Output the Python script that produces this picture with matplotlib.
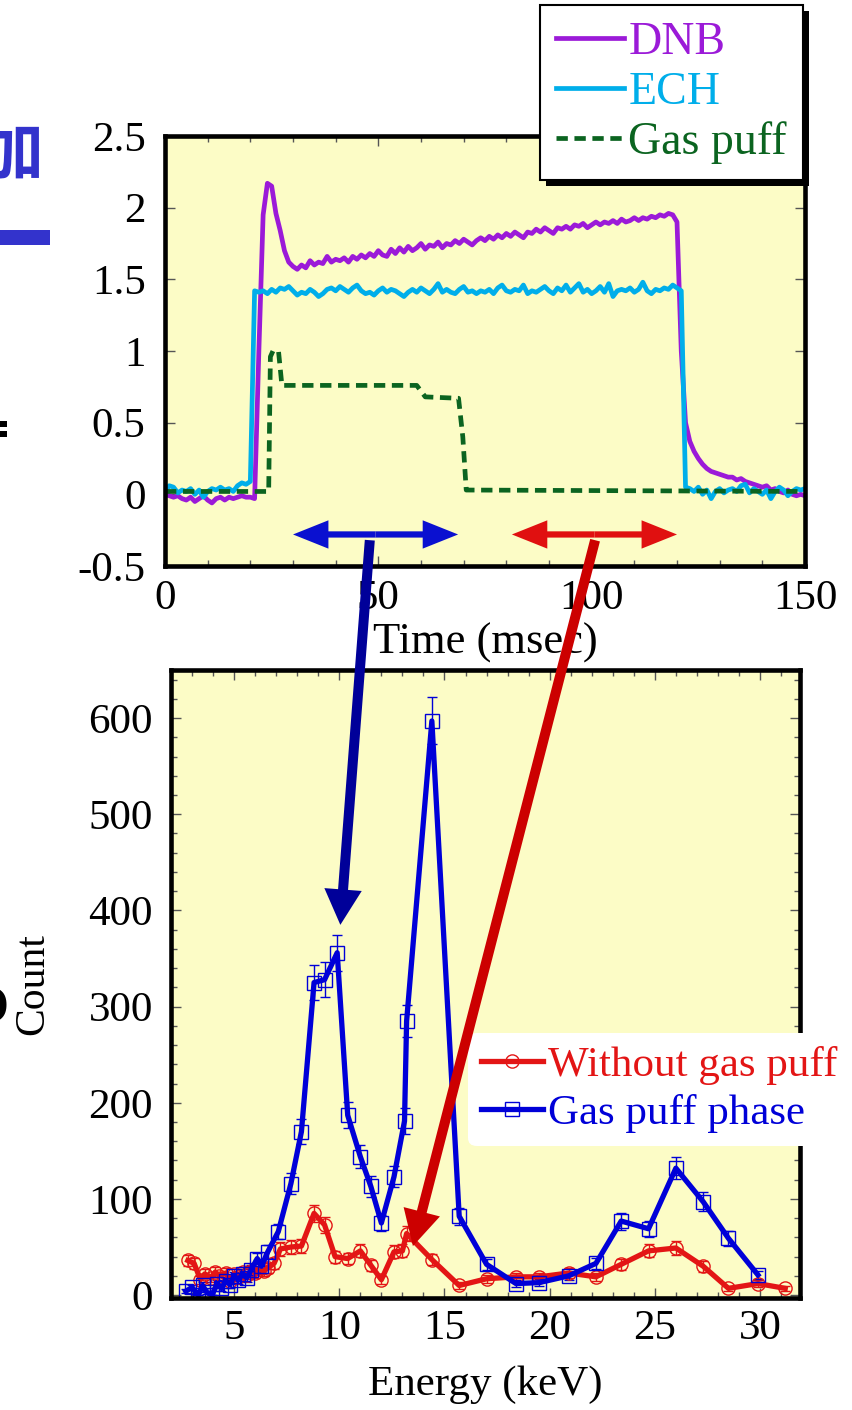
import matplotlib
matplotlib.use("Agg")
import matplotlib.pyplot as plt
import numpy as np
from matplotlib.patches import ConnectionPatch, Rectangle
from matplotlib.lines import Line2D
from matplotlib.ticker import MultipleLocator

plt.rcParams["font.family"] = ["Liberation Serif", "DejaVu Serif"]

# --- time traces, one sample per ms ---
time_ms = np.arange(0, 151)
dnb = [
    0.00, -0.01, -0.02, -0.01, -0.03, -0.04, -0.02, -0.05, -0.03, -0.01,
    -0.04, -0.06, -0.03, -0.02, -0.04, -0.02, -0.03, -0.02, -0.01, -0.02,
    -0.02, -0.03, 1.00, 1.95, 2.17, 2.15, 1.96, 1.84, 1.70, 1.62,
    1.59, 1.57, 1.60, 1.58, 1.63, 1.60, 1.62, 1.61, 1.66, 1.62,
    1.64, 1.63, 1.65, 1.62, 1.66, 1.64, 1.67, 1.65, 1.68, 1.66,
    1.70, 1.67, 1.66, 1.71, 1.68, 1.72, 1.69, 1.73, 1.70, 1.72,
    1.75, 1.71, 1.74, 1.73, 1.76, 1.72, 1.75, 1.74, 1.77, 1.75,
    1.78, 1.76, 1.74, 1.77, 1.79, 1.77, 1.80, 1.78, 1.81, 1.79,
    1.82, 1.80, 1.83, 1.81, 1.79, 1.83, 1.82, 1.85, 1.83, 1.86,
    1.84, 1.82, 1.86, 1.85, 1.87, 1.85, 1.88, 1.87, 1.89, 1.86,
    1.88, 1.90, 1.88, 1.90, 1.89, 1.91, 1.89, 1.92, 1.90, 1.91,
    1.93, 1.91, 1.93, 1.92, 1.94, 1.93, 1.95, 1.94, 1.96, 1.95,
    1.90, 1.00, 0.50, 0.37, 0.30, 0.25, 0.21, 0.18, 0.16, 0.15,
    0.14, 0.13, 0.12, 0.12, 0.10, 0.11, 0.09, 0.08, 0.07, 0.06,
    0.05, 0.06, 0.03, 0.04, 0.02, 0.01, 0.03, 0.00, -0.01, 0.00,
    -0.01,
]
ech = [
    0.02, 0.06, 0.05, 0.01, 0.03, 0.02, 0.04, 0.00, 0.03, -0.02,
    0.02, 0.04, 0.03, 0.05, 0.03, 0.04, 0.02, 0.06, 0.08, 0.07,
    0.09, 1.42, 1.41, 1.42, 1.40, 1.43, 1.41, 1.44, 1.43, 1.45,
    1.42, 1.39, 1.41, 1.40, 1.43, 1.41, 1.38, 1.40, 1.43, 1.44,
    1.42, 1.45, 1.43, 1.41, 1.44, 1.46, 1.42, 1.40, 1.41, 1.39,
    1.42, 1.44, 1.41, 1.43, 1.42, 1.40, 1.38, 1.41, 1.43, 1.41,
    1.44, 1.42, 1.40, 1.43, 1.47, 1.41, 1.43, 1.41, 1.40, 1.43,
    1.45, 1.41, 1.42, 1.40, 1.42, 1.41, 1.43, 1.40, 1.44, 1.46,
    1.42, 1.41, 1.43, 1.42, 1.46, 1.40, 1.42, 1.41, 1.43, 1.45,
    1.42, 1.40, 1.44, 1.42, 1.46, 1.41, 1.44, 1.47, 1.41, 1.43,
    1.40, 1.42, 1.45, 1.41, 1.47, 1.38, 1.42, 1.43, 1.42, 1.44,
    1.41, 1.43, 1.48, 1.42, 1.40, 1.43, 1.42, 1.44, 1.43, 1.46,
    1.44, 1.42, 0.05, 0.04, 0.02, 0.05, 0.00, 0.03, -0.03, 0.02,
    0.04, 0.01, 0.03, 0.04, 0.02, 0.06, 0.07, 0.01, 0.04, 0.02,
    0.00, 0.03, -0.03, 0.02, 0.05, 0.03, -0.01, 0.02, 0.04, 0.03,
    0.04,
]
gas_time = [0, 24.3, 24.7, 25.3, 26.6, 27.4, 59.0, 61.0, 68.8, 69.8, 70.6, 150]
gas_puff = [0.02, 0.02, 0.96, 1.00, 1.00, 0.76, 0.76, 0.68, 0.67, 0.40, 0.03, 0.02]

# analysis windows (msec)
window_puff = (30.0, 68.7)
window_off = (81.3, 120.0)

# --- energy spectra ---
energy_off = [2.8, 3.1, 3.4, 3.6, 3.9, 4.1, 4.3, 4.6, 4.8, 5.0,
              5.2, 5.4, 5.6, 5.8, 6.0, 6.2, 6.4, 6.6, 6.9, 7.2,
              7.7, 8.2, 8.8, 9.3, 9.8, 10.4, 11.0, 11.5, 12.0, 12.6,
              13.0, 13.2, 14.4, 15.7, 17.0, 18.4, 19.5, 20.9, 22.2, 23.4,
              24.7, 26.0, 27.3, 28.5, 29.9, 31.2]
count_off = [36, 33, 16, 22, 18, 24, 20, 23, 15, 22,
             19, 24, 21, 25, 23, 27, 25, 28, 33, 48,
             50, 51, 85, 73, 40, 38, 46, 31, 16, 45,
             46, 64, 37, 10, 17, 19, 19, 23, 19, 32,
             46, 49, 30, 7, 12, 7]
energy_puff = [2.7, 3.0, 3.3, 3.5, 3.7, 3.95, 4.2, 4.4, 4.6, 4.8,
               5.0, 5.2, 5.4, 5.6, 5.8, 6.1, 6.3, 6.6, 7.1, 7.7,
               8.2, 8.8, 9.3, 9.9, 10.4, 11.0, 11.5, 12.0, 12.6, 13.1,
               13.2, 14.4, 15.7, 17.0, 18.4, 19.5, 20.9, 22.2, 23.4, 24.7,
               26.0, 27.3, 28.5, 29.9]
count_puff = [4, 8, 0, 10, 3, 0, 12, 7, 15, 11,
              20, 16, 22, 18, 26, 38, 30, 45, 66, 116,
              170, 325, 328, 356, 187, 144, 113, 75, 123, 181,
              285, 597, 82, 32, 12, 13, 20, 33, 77, 69,
              132, 97, 59, 21]

BG = "#FCFCC6"
C_DNB = "#9B1AD8"
C_ECH = "#00AEEA"
C_GAS = "#0B6420"
C_OFF = "#E31515"
C_PUFF = "#0000D8"
FS = 31

W, H = 853, 1410
fig = plt.figure(figsize=(W / 100, H / 100), dpi=100)


def fig_box(x0, y0, x1, y1):
    return [x0 / W, 1 - y1 / H, (x1 - x0) / W, (y1 - y0) / H]


def style_axes(ax):
    ax.set_facecolor(BG)
    for s in ax.spines.values():
        s.set_linewidth(3.3)
    ax.tick_params(which="both", direction="in", top=True, right=True,
                   colors="#555555", labelcolor="black", labelsize=FS, width=1)
    ax.tick_params(which="major", length=7)
    ax.tick_params(which="minor", length=4.5)


# ---------------- top: time traces ----------------
ax1 = fig.add_axes(fig_box(165, 136, 805, 566))
style_axes(ax1)
l_dnb, = ax1.plot(time_ms, dnb, color=C_DNB, lw=3.4)
l_ech, = ax1.plot(time_ms, ech, color=C_ECH, lw=3.4)
l_gas, = ax1.plot(gas_time, gas_puff, color=C_GAS, lw=3.4, dashes=(2.4, 1.4))
ax1.set_xlim(0, 150)
ax1.set_ylim(-0.5, 2.5)
ax1.xaxis.set_major_locator(MultipleLocator(50))
ax1.xaxis.set_minor_locator(MultipleLocator(10))
ax1.set_yticks([-0.5, 0, 0.5, 1, 1.5, 2, 2.5], ["-0.5", "0", "0.5", "1", "1.5", "2", "2.5"])
ax1.tick_params(axis="y", pad=14)
ax1.tick_params(axis="x", pad=10)
ax1.set_xlabel("Time (msec)", fontsize=32, labelpad=3)

arrow_y = -0.28
for (t0, t1), col in [(window_puff, "#0A10D0"), (window_off, "#E01010")]:
    mid = 0.5 * (t0 + t1)
    for end in (t0, t1):
        ax1.annotate("", xy=(end, arrow_y), xytext=(mid, arrow_y),
                     arrowprops=dict(arrowstyle="simple,head_length=0.85,head_width=0.68,tail_width=0.15",
                                     color=col, lw=0, shrinkA=0, shrinkB=0, mutation_scale=30))

leg1 = fig.legend([l_dnb, l_ech, l_gas], ["DNB", "ECH", "Gas puff"],
                  loc="upper right", bbox_to_anchor=(803 / W, 1 - 5 / H),
                  fontsize=33, frameon=True, fancybox=False, edgecolor="black",
                  framealpha=1, handlelength=1.48, handletextpad=0.1,
                  labelspacing=0.17, borderpad=0.35, borderaxespad=0,
                  labelcolor="linecolor")
leg1.get_frame().set_linewidth(1.5)
leg1.set_zorder(8)

# ---------------- bottom: spectra ----------------
ax2 = fig.add_axes(fig_box(171, 670, 800, 1298))
style_axes(ax2)
ax2.errorbar(energy_off, count_off, yerr=np.sqrt(count_off), color=C_OFF, lw=3.8,
             marker="o", ms=9.5, mfc="none", mew=1.0, elinewidth=1.0, capsize=3.5,
             capthick=1.0)
ax2.errorbar(energy_puff, count_puff, yerr=np.sqrt(count_puff), color=C_PUFF, lw=3.8,
             marker="s", ms=9.5, mfc="none", mew=1.0, elinewidth=1.0, capsize=3.5,
             capthick=1.0)
ax2.set_xlim(2.0, 31.9)
ax2.set_ylim(-3, 650)
ax2.xaxis.set_major_locator(MultipleLocator(5))
ax2.xaxis.set_minor_locator(MultipleLocator(1))
ax2.yaxis.set_major_locator(MultipleLocator(100))
ax2.yaxis.set_minor_locator(MultipleLocator(20))
ax2.set_xticks([5, 10, 15, 20, 25, 30])
ax2.tick_params(axis="y", pad=13)
ax2.tick_params(axis="x", pad=8)
ax2.set_xlabel("Energy (keV)", fontsize=31, labelpad=13)
ax2.set_ylabel("Count", fontsize=30)
ax2.yaxis.set_label_coords(-0.188, 0.5)

handles2 = [Line2D([], [], color=C_OFF, lw=3.8, marker="o", ms=9.5, mfc="none", mew=1.0),
            Line2D([], [], color=C_PUFF, lw=3.8, marker="s", ms=9.5, mfc="none", mew=1.0)]
leg2 = ax2.legend(handles2, ["Without gas puff", "Gas puff phase"],
                  loc="upper left", bbox_to_anchor=(468 / W, 1 - 1033 / H),
                  bbox_transform=fig.transFigure, fontsize=31, frameon=True,
                  fancybox=True, edgecolor="none", framealpha=1, facecolor="white",
                  handlelength=1.45, handletextpad=0.1, labelspacing=0.21,
                  borderpad=0.3, borderaxespad=0, labelcolor="linecolor")
leg2.set_zorder(10)

# arrows linking the time windows with their spectra
for start, tip, col in [((48.0, -0.32), (10.05, 385), "#000099"),
                        ((100.8, -0.32), (13.5, 51), "#CC0000")]:
    con = ConnectionPatch(xyA=start, coordsA=ax1.transData, xyB=tip, coordsB=ax2.transData,
                          arrowstyle="simple,head_length=0.85,head_width=0.9,tail_width=0.24",
                          mutation_scale=30, color=col, lw=0, shrinkA=0, shrinkB=0, zorder=6)
    fig.add_artist(con)

# solid black drop shadow behind the top legend
fig.canvas.draw()
bb = leg1.get_window_extent()
fig.add_artist(Rectangle((bb.x0 + 6, bb.y0 - 6), bb.width, bb.height, transform=None,
                         color="black", lw=0, zorder=7))

# slide fragments at the left edge
fig.text(44 / W, 1 - 155 / H, "加", ha="right", va="center", fontsize=46, color="#3333CC",
         family=["Noto Sans CJK JP"], weight="bold")
fig.add_artist(Rectangle((0, 1 - 245 / H), 50 / W, 15 / H, transform=fig.transFigure,
                         color="#3333CC", lw=0))
fig.add_artist(Rectangle((0, 1 - 427 / H), 7 / W, 6 / H, transform=fig.transFigure,
                         color="black", lw=0))
fig.add_artist(Rectangle((0, 1 - 437 / H), 7 / W, 6 / H, transform=fig.transFigure,
                         color="black", lw=0))
fig.text(9 / W, 1 - 1008 / H, "O", ha="right", va="center", fontsize=38, weight="bold",
         color="black")

fig.savefig("out.png", dpi=100)
